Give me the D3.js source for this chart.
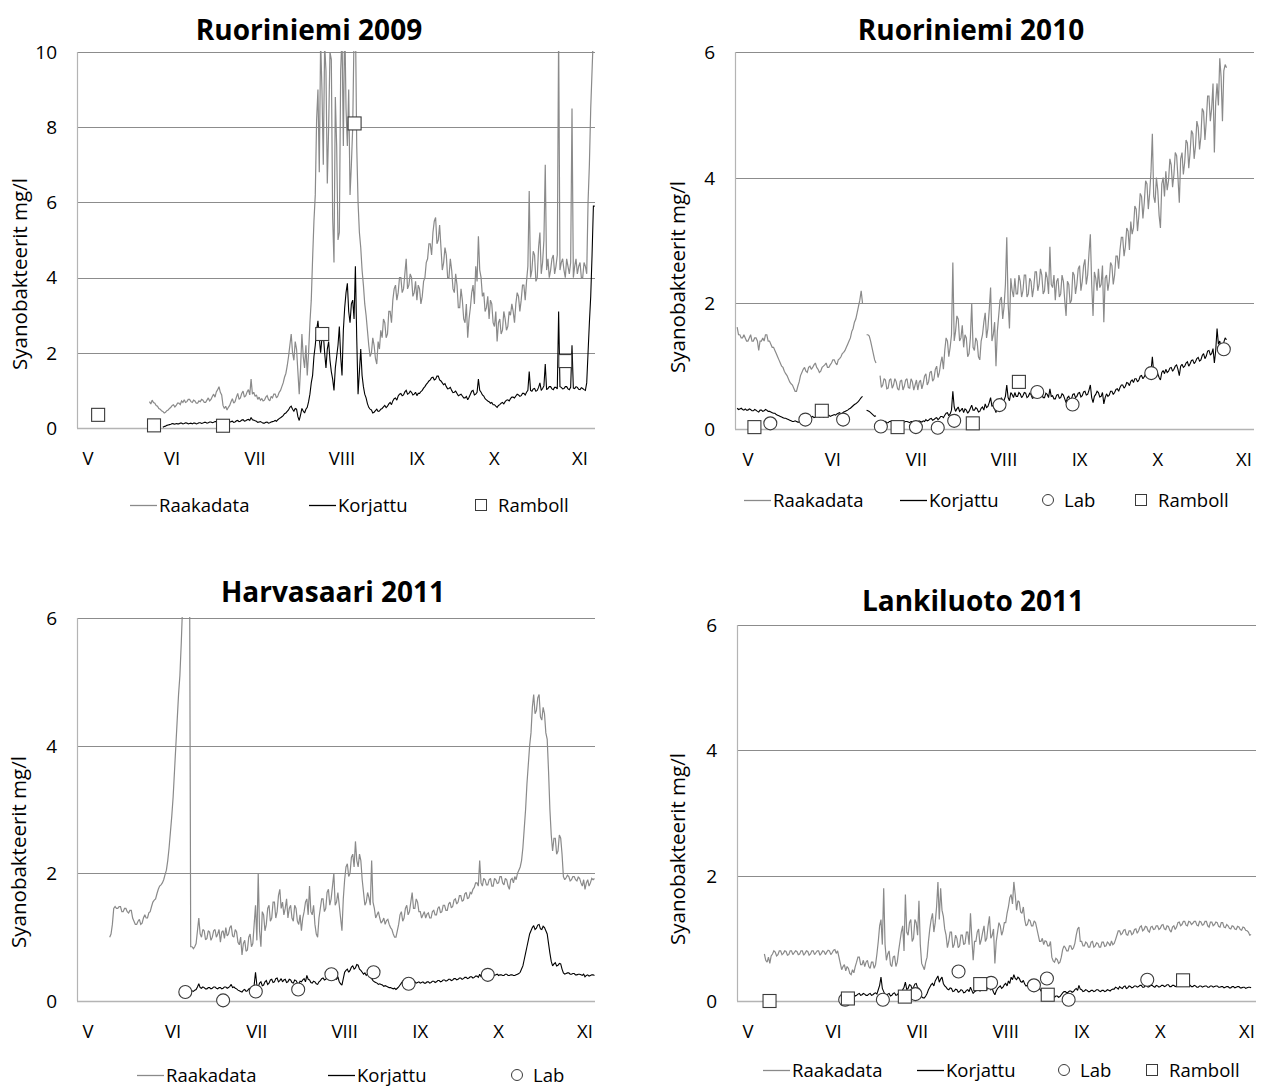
<!DOCTYPE html>
<html>
<head>
<meta charset="utf-8">
<script src="https://cdn.jsdelivr.net/npm/d3@7"></script>
<style>
  body { margin: 0; background: #fff; }
  text { font-family: "Open Sans", "DejaVu Sans", sans-serif; fill: #000; }
</style>
</head>
<body>
<svg id="chart" width="1264" height="1088"></svg>
<script>
// ---------------------------------------------------------------------------
// Month labels along the time axis (day 0 = 1 May)
const monthLabels = ["V", "VI", "VII", "VIII", "IX", "X", "XI"];
const monthDays = [0, 31.5, 62.5, 95, 123, 152, 184];

// ---------------------------------------------------------------------------
// Sensor data is logged densely; each day is stored as two readings:
// *A at the start of the day and *B at midday (the other edge of the
// daily scatter). null = gap in logging.

// Ruoriniemi 2009
const ruori09RawStart = 23;
const ruori09RawA = [
  0.70, 0.74, 0.66, 0.58, 0.50, 0.44, 0.42,
  0.48, 0.55, 0.62, 0.60, 0.66, 0.72,
  0.75, 0.70, 0.76, 0.68, 0.72, 0.66, 0.70, 0.74, 0.68, 0.80, 0.76, 0.90, 0.96, 1.10,
  0.88, 0.52, 0.48, 0.60, 0.78,
  0.70, 0.92, 0.80, 0.98, 0.86, 1.02, 1.30, 0.95, 0.88, 0.82,
  0.78, 0.74, 0.86, 0.72, 0.80, 0.90, 0.85, 1.00,
  1.20, 1.45, 1.90, 2.50, 1.80, 2.10, 0.90,
  2.50, 1.60, 1.40, 2.80,
  4.50, 6.20, 9.00, 10.3, 7.00, 9.50, 8.00, 9.80, 4.40, 7.50, 5.20, 10.5, 11.0, 7.50, 6.20, 8.00, 11.0, 6.00, 4.80, 3.80, 3.00, 2.20, 2.00, 2.20, 1.70, 2.10,
  2.40, 2.80, 2.50, 3.10, 3.40,
  3.80, 3.60, 4.00, 3.70, 4.50, 3.80, 4.00, 3.60,
  3.40, 3.70, 3.50, 4.00,
  4.50, 4.90, 5.20, 5.60, 5.00,
  4.80, 4.40, 4.60, 4.00, 4.20, 3.60, 3.80, 3.20, 3.40, 2.80,
  2.40, 3.20, 3.80, 4.30, 5.10, 4.00, 3.60, 3.20, 2.90, 3.30, 2.70, 2.30, 2.90, 2.60, 2.90, 2.70, 3.00, 3.10, 3.30, 3.50, 3.40, 3.80, 3.90,
  6.30, 4.20, 4.60, 4.00, 5.20, 4.40, 7.00, 4.50, 4.20, 4.60, 4.30, 10.5, 4.40, 4.20, 4.50, 4.10, 8.50, 4.30, 4.10, 4.40, 4.00, 4.30, 6.00, 8.50, 10.5
];
const ruori09RawB = [
  0.64, 0.68, 0.60, 0.52, 0.46, 0.40, 0.46,
  0.52, 0.60, 0.56, 0.66, 0.62, 0.68,
  0.68, 0.76, 0.70, 0.74, 0.66, 0.72, 0.76, 0.68, 0.74, 0.72, 0.84, 0.82, 1.02, 0.95,
  0.60, 0.58, 0.55, 0.70, 0.66,
  0.82, 0.76, 0.92, 0.82, 0.96, 0.88, 0.90, 0.84, 0.76, 0.74,
  0.72, 0.82, 0.76, 0.84, 0.90, 0.80, 0.95, 1.10,
  1.35, 1.65, 2.20, 2.00, 2.30, 1.50, 1.60,
  1.90, 2.20, 2.00, 3.40,
  5.50, 8.20, 6.80, 9.00, 10.2, 6.50, 10.0, 5.60, 8.80, 5.00, 9.50, 7.50, 8.50, 9.00, 7.00, 10.5, 7.50, 5.20, 4.20, 3.30, 2.60, 1.90, 2.40, 1.85, 2.30, 2.60,
  2.90, 2.40, 3.10, 2.80, 3.70,
  3.40, 4.00, 3.60, 4.10, 3.70, 4.10, 3.50, 3.90,
  3.80, 3.30, 3.90, 4.40,
  4.90, 4.60, 5.50, 4.90, 5.40,
  4.20, 4.80, 4.00, 4.50, 3.70, 4.10, 3.20, 3.70, 2.90, 3.30,
  2.90, 3.60, 3.30, 3.90, 4.20, 3.50, 3.10, 3.50, 3.40, 2.80, 3.10, 2.80, 2.50, 3.10, 2.60, 3.10, 3.30, 2.80, 3.60, 3.10, 3.80, 3.40, 4.30,
  4.00, 4.70, 3.90, 4.80, 4.10, 5.00, 4.20, 4.00, 4.50, 4.10, 4.60, 4.20, 4.50, 4.00, 4.30, 4.40, 4.00, 4.50, 4.30, 4.00, 4.40, 4.10, 7.00, 9.50, 10.5
];
const ruori09CorrStart = 28;
const ruori09CorrA = [
  0.02, 0.05, 0.08, 0.10, 0.11, 0.12, 0.11, 0.13,
  0.12, 0.13, 0.12, 0.11, 0.13, 0.12, 0.14, 0.13, 0.15, 0.14, 0.16, 0.15, 0.17, 0.18,
  0.16, 0.12, 0.11, 0.15, 0.18, 0.16, 0.20, 0.18, 0.22, 0.19, 0.23, 0.28, 0.21, 0.18, 0.16,
  0.15, 0.13, 0.16, 0.14, 0.17, 0.20, 0.22, 0.27, 0.33, 0.40, 0.48, 0.58, 0.45, 0.50, 0.20,
  0.52, 0.40, 0.55, 0.90, 1.40, 2.20, 2.85, 2.00, 2.50, 1.60, 2.30, 1.50, 1.00, 1.90, 2.70, 1.40, 3.20, 3.85, 2.80, 3.40, 4.30,
  0.90, 2.10, 1.10, 0.80, 0.55, 0.48, 0.42, 0.50, 0.45, 0.52, 0.60, 0.58, 0.68, 0.72, 0.80,
  0.85, 0.92, 0.88, 1.00, 0.92, 0.95, 0.90, 0.86, 0.92, 1.00, 1.10, 1.20, 1.28, 1.35, 1.30,
  1.38, 1.25, 1.15, 1.10, 1.05, 1.00, 0.95, 0.92, 0.88, 0.85, 0.80, 0.75, 0.90, 1.00, 0.90,
  1.30, 0.95, 0.85, 0.75, 0.70, 0.68, 0.62, 0.55, 0.62, 0.68, 0.70, 0.75, 0.78, 0.82, 0.85,
  0.88, 0.86, 0.92, 0.95, 1.50, 0.98, 1.05, 1.00, 1.20, 1.05, 1.70, 1.05, 1.10, 1.02, 1.08,
  3.10, 1.08, 1.05, 1.10, 1.02, 2.20, 1.05, 1.08, 1.02, 1.05, 1.00, 2.00, 3.50, 5.90
];
const ruori09CorrB = [
  0.04, 0.07, 0.09, 0.12, 0.10, 0.11, 0.13, 0.11,
  0.14, 0.11, 0.13, 0.13, 0.11, 0.14, 0.12, 0.15, 0.13, 0.16, 0.14, 0.17, 0.15, 0.20,
  0.13, 0.10, 0.13, 0.17, 0.15, 0.19, 0.17, 0.21, 0.18, 0.22, 0.20, 0.22, 0.19, 0.15, 0.17,
  0.13, 0.15, 0.13, 0.16, 0.18, 0.18, 0.25, 0.30, 0.38, 0.44, 0.55, 0.50, 0.52, 0.30, 0.35,
  0.45, 0.50, 0.70, 1.20, 1.90, 2.60, 2.40, 2.40, 2.00, 2.10, 1.80, 1.30, 1.60, 2.20, 1.90, 2.60, 3.60, 3.10, 3.30, 2.90, 2.40,
  1.50, 1.40, 0.90, 0.65, 0.50, 0.40, 0.46, 0.44, 0.50, 0.56, 0.54, 0.64, 0.62, 0.78, 0.74,
  0.90, 0.86, 0.96, 0.90, 0.98, 0.88, 0.95, 0.92, 0.97, 1.06, 1.16, 1.25, 1.34, 1.28, 1.38,
  1.28, 1.20, 1.18, 1.04, 1.08, 0.94, 0.98, 0.86, 0.90, 0.80, 0.84, 0.82, 0.98, 0.88, 0.95,
  1.00, 0.88, 0.78, 0.72, 0.66, 0.62, 0.58, 0.60, 0.66, 0.64, 0.74, 0.72, 0.82, 0.80, 0.90,
  0.84, 0.92, 0.88, 1.00, 1.00, 1.04, 0.98, 1.08, 1.00, 1.12, 1.02, 1.10, 1.04, 1.08, 1.04,
  1.10, 1.04, 1.10, 1.04, 1.08, 1.06, 1.10, 1.03, 1.07, 1.02, 1.20, 2.80, 4.60, 5.90
];
const ruori09RambollDays = [3.8, 24.7, 50.5, 87.6, 99.7, 178.5];
const ruori09RambollVals = [0.35, 0.07, 0.06, 2.50, 8.10, 1.78];

// ---------------------------------------------------------------------------
// Ruoriniemi 2010
const ruori10RawStart = -4;
const ruori10RawA = [
  1.62, 1.50, 1.45, 1.45, 1.40, 1.50, 1.40, 1.45, 1.25, 1.40, 1.40, 1.50, 1.40, 1.30,
  1.25, 1.15, 1.05, 0.98, 0.88, 0.80, 0.72, 0.65, 0.60, 0.75, 0.90, 0.98, 0.90, 1.00, 0.98,
  1.05, 0.95, 0.92, 1.00, 1.05, 0.98, 1.05, 1.10, 1.02, 1.12, 1.20, 1.25, 1.35, 1.45, 1.60, 1.75, 1.95, 2.20,
  null,
  1.50, 1.48, 1.30, 1.10,
  null,
  0.85, 0.70, 0.78, 0.65, 0.80, 0.70, 0.75, 0.62, 0.78, 0.68, 0.80, 0.65, 0.75, 0.70, 0.62, 0.78,
  0.72, 0.88, 0.75, 0.92, 0.80, 1.00, 0.90, 1.15, 1.25, 1.40, 1.30, 2.65, 1.55, 1.75, 1.45,
  1.30, 1.45, 1.20, 2.00, 1.25, 1.40, 1.10, 1.50, 1.85, 1.60, 2.25, 1.50, 1.00, 1.80, 2.10,
  1.95, 3.05, 1.60, 2.20, 2.40, 2.15, 2.35, 2.20, 2.45, 2.15, 2.35, 2.25, 2.50, 2.30, 2.45,
  2.20, 2.40, 2.90, 2.25, 2.05, 2.40, 2.15, 2.35, 1.80, 2.30, 2.05, 2.45, 2.30, 2.60, 2.35,
  2.70, 2.45, 3.10, 1.80, 2.40, 2.55, 2.30, 1.70, 2.45, 2.35, 2.60, 2.45, 2.75, 2.85, 3.05,
  2.90, 3.15, 3.30, 3.20, 3.50, 3.40, 3.70, 3.60, 3.90, 3.75, 4.70, 3.60, 3.80, 3.20, 4.00,
  4.10, 3.95, 4.20, 4.05, 4.35, 3.60, 4.40, 4.25, 4.55, 4.40, 4.70, 4.50, 4.80, 4.65, 5.05,
  4.90, 5.30, 5.10, 4.40, 5.50, 5.90, 4.90, 5.80
];
const ruori10RawB = [
  1.50, 1.45, 1.50, 1.40, 1.45, 1.40, 1.45, 1.40, 1.40, 1.45, 1.50, 1.40, 1.35, 1.30,
  1.20, 1.10, 1.00, 0.92, 0.85, 0.75, 0.70, 0.60, 0.68, 0.85, 0.95, 0.92, 0.98, 0.95, 1.02,
  0.98, 0.90, 0.98, 1.02, 0.98, 1.02, 1.10, 1.05, 1.10, 1.15, 1.22, 1.30, 1.40, 1.55, 1.70, 1.85, 2.05, 2.00,
  null,
  1.50, 1.40, 1.20, 1.05,
  null,
  0.66, 0.80, 0.64, 0.78, 0.65, 0.80, 0.64, 0.76, 0.62, 0.78, 0.66, 0.80, 0.62, 0.78, 0.74, 0.64,
  0.84, 0.70, 0.90, 0.76, 0.95, 0.82, 1.05, 0.95, 1.45, 1.15, 1.50, 1.40, 1.80, 1.40, 1.65,
  1.50, 1.15, 1.45, 1.30, 1.45, 1.15, 1.40, 1.70, 1.45, 1.90, 1.40, 1.70, 1.55, 2.05, 1.75,
  2.30, 2.00, 2.40, 2.10, 2.15, 2.45, 2.10, 2.45, 2.10, 2.40, 2.10, 2.50, 2.20, 2.55, 2.15,
  2.50, 2.15, 2.30, 2.45, 2.35, 2.10, 2.45, 2.05, 2.35, 2.00, 2.50, 2.15, 2.55, 2.20, 2.60,
  2.30, 2.80, 2.30, 2.50, 2.20, 2.25, 2.60, 2.40, 2.20, 2.65, 2.30, 2.75, 2.55, 3.05, 2.75,
  3.20, 2.85, 3.10, 3.55, 3.15, 3.75, 3.35, 3.95, 3.50, 4.10, 3.70, 4.00, 3.40, 3.90, 3.70,
  3.80, 4.30, 3.85, 4.40, 4.00, 4.30, 4.05, 4.60, 4.15, 4.75, 4.30, 4.90, 4.45, 5.10, 4.60,
  5.30, 4.90, 5.50, 5.20, 5.15, 5.60, 5.70, 5.75
];
const ruori10CorrStart = -4;
const ruori10CorrA = [
  0.33, 0.32, 0.31, 0.32, 0.30, 0.31, 0.29, 0.30, 0.27, 0.30, 0.29, 0.30, 0.28, 0.26,
  0.25, 0.22, 0.20, 0.18, 0.17, 0.15, 0.13, 0.12, 0.12, 0.11, 0.13, 0.15, 0.17, 0.18, 0.20,
  0.19, 0.21, 0.20, 0.19, 0.20, 0.22, 0.21, 0.23, 0.24, 0.26, 0.25, 0.28, 0.30, 0.33, 0.37, 0.40, 0.44, 0.50,
  null,
  0.30, 0.28, 0.24, 0.20,
  null,
  0.14, 0.10, 0.12, 0.10, 0.12, 0.11, 0.12, 0.10, 0.12, 0.11, 0.12, 0.10, 0.12, 0.11, 0.10, 0.12,
  0.13, 0.15, 0.14, 0.17, 0.15, 0.18, 0.17, 0.20, 0.22, 0.26, 0.24, 0.60, 0.28, 0.35, 0.30,
  0.26, 0.30, 0.28, 0.38, 0.30, 0.32, 0.28, 0.35, 0.40, 0.36, 0.50, 0.38, 0.26, 0.42, 0.50,
  0.46, 0.70, 0.45, 0.55, 0.58, 0.52, 0.56, 0.53, 0.57, 0.52, 0.55, 0.50, 0.56, 0.52, 0.55,
  0.50, 0.55, 0.64, 0.53, 0.48, 0.55, 0.50, 0.54, 0.42, 0.52, 0.48, 0.56, 0.52, 0.58, 0.53,
  0.60, 0.55, 0.70, 0.42, 0.55, 0.58, 0.52, 0.40, 0.56, 0.54, 0.60, 0.58, 0.64, 0.66, 0.70,
  0.68, 0.73, 0.76, 0.74, 0.80, 0.78, 0.85, 0.83, 0.89, 0.86, 1.15, 0.84, 0.88, 0.78, 0.93,
  0.95, 0.92, 0.98, 0.95, 1.02, 0.85, 1.03, 1.00, 1.07, 1.04, 1.10, 1.07, 1.14, 1.10, 1.20,
  1.16, 1.25, 1.20, 1.05, 1.60, 1.40, 1.20, 1.45
];
const ruori10CorrB = [
  0.31, 0.33, 0.30, 0.30, 0.32, 0.29, 0.31, 0.28, 0.30, 0.28, 0.31, 0.28, 0.27, 0.25,
  0.23, 0.21, 0.19, 0.17, 0.16, 0.14, 0.12, 0.13, 0.11, 0.12, 0.14, 0.16, 0.18, 0.19, 0.18,
  0.20, 0.19, 0.21, 0.20, 0.21, 0.20, 0.22, 0.22, 0.25, 0.24, 0.27, 0.29, 0.32, 0.35, 0.39, 0.42, 0.47, 0.52,
  null,
  0.29, 0.26, 0.22, 0.21,
  null,
  0.12, 0.11, 0.10, 0.12, 0.10, 0.12, 0.11, 0.12, 0.10, 0.12, 0.11, 0.12, 0.10, 0.12, 0.13, 0.11,
  0.12, 0.13, 0.16, 0.14, 0.17, 0.15, 0.20, 0.18, 0.25, 0.21, 0.30, 0.35, 0.32, 0.28, 0.33,
  0.32, 0.25, 0.33, 0.30, 0.34, 0.27, 0.33, 0.30, 0.34, 0.42, 0.36, 0.32, 0.36, 0.38, 0.44,
  0.52, 0.50, 0.58, 0.50, 0.52, 0.58, 0.50, 0.58, 0.50, 0.57, 0.49, 0.57, 0.50, 0.57, 0.50,
  0.57, 0.50, 0.52, 0.48, 0.54, 0.49, 0.56, 0.48, 0.50, 0.46, 0.55, 0.50, 0.57, 0.51, 0.59,
  0.54, 0.62, 0.50, 0.52, 0.60, 0.51, 0.58, 0.50, 0.52, 0.60, 0.55, 0.63, 0.60, 0.70, 0.65,
  0.74, 0.69, 0.78, 0.80, 0.75, 0.84, 0.80, 0.88, 0.84, 0.92, 0.90, 0.92, 0.82, 0.90, 0.88,
  0.90, 0.97, 0.92, 1.00, 0.95, 1.00, 0.98, 1.05, 1.00, 1.09, 1.04, 1.12, 1.08, 1.17, 1.12,
  1.24, 1.18, 1.28, 1.25, 1.35, 1.30, 1.38, 1.42
];
const ruori10LabDays = [8.3, 21.3, 35.3, 49.3, 62.3, 70.4, 76.5, 93.3, 107.3, 120.4, 149.6, 176.5];
const ruori10LabVals = [0.09, 0.15, 0.15, 0.04, 0.03, 0.02, 0.13, 0.38, 0.59, 0.39, 0.89, 1.27];
const ruori10RambollDays = [2.4, 27.4, 55.5, 83.4, 100.5];
const ruori10RambollVals = [0.03, 0.29, 0.03, 0.09, 0.75];

// ---------------------------------------------------------------------------
// Harvasaari 2011
const harva11RawStart = 8;
const harva11RawA = [
  1.00, 1.20, 1.48, 1.45, 1.48, 1.40, 1.45, 1.38, 1.42, 1.25, 1.20, 1.28, 1.22, 1.35, 1.30,
  1.40, 1.55, 1.60, 1.75, 1.82, 1.90, 2.05, 2.40, 2.90, 3.60, 4.40, 5.10, 6.20, 7.50, 8.00,
  0.85, 0.82, 0.90, 1.30, 1.00, 1.10, 0.98, 1.08, 1.00, 1.12, 1.05, 0.92, 1.10, 1.15, 1.05,
  1.18, 1.00, 1.08, 0.88, 0.72, 0.95, 0.80, 1.05, 0.90, 1.50, 2.00, 0.85, 1.35, 1.20, 1.50,
  1.30, 1.55, 1.40, 1.75, 1.55, 1.45, 1.30, 1.50, 1.25, 1.45, 1.20, 1.10, 1.40, 1.60, 1.80,
  1.35, 1.20, 1.00, 1.45, 1.60, 1.45, 1.75, 1.60, 2.00, 1.55, 1.50, 1.10, 1.90, 2.15, 2.00,
  2.30, 2.50, 2.10, 2.20, 1.70, 1.55, 1.62, 2.20, 1.45, 1.35, 1.30, 1.25, 1.20, 1.28, 1.15,
  1.05, 1.00, 1.20, 1.40, 1.30, 1.50, 1.40, 1.70, 1.45, 1.55, 1.40, 1.35, 1.30, 1.38, 1.30,
  1.42, 1.35, 1.48, 1.40, 1.50, 1.42, 1.55, 1.48, 1.60, 1.55, 1.65, 1.58, 1.70, 1.62, 1.68,
  1.78, 1.85, 2.20, 1.80, 1.90, 1.82, 1.92, 1.80, 1.90, 1.85, 1.95, 1.82, 1.90, 1.75, 1.92,
  1.95, 2.00, 2.10, 2.40, 3.00, 3.70, 4.20, 4.80, 4.55, 4.80, 4.40, 4.50, 4.10, 3.00, 2.35,
  2.55, 2.35, 2.55, 1.95, 1.93, 1.95, 1.90, 1.95, 1.88, 1.92, 1.80, 1.75, 1.90, 1.85, 1.90
];
const harva11RawB = [
  1.05, 1.45, 1.45, 1.48, 1.40, 1.45, 1.40, 1.42, 1.30, 1.20, 1.25, 1.20, 1.30, 1.30, 1.38,
  1.48, 1.58, 1.68, 1.80, 1.85, 1.98, 2.20, 2.65, 3.20, 4.00, 4.80, 5.60, 7.00, 8.00, 8.00,
  0.85, 0.85, 1.10, 1.05, 1.12, 0.96, 1.10, 0.95, 1.10, 1.00, 1.12, 1.08, 0.98, 1.02, 1.15,
  1.02, 1.12, 0.92, 1.00, 0.90, 0.78, 1.00, 0.85, 1.20, 0.95, 1.10, 1.40, 1.10, 1.45, 1.25,
  1.55, 1.30, 1.65, 1.45, 1.35, 1.60, 1.45, 1.30, 1.50, 1.25, 1.35, 1.30, 1.55, 1.35, 1.40,
  1.50, 1.05, 1.30, 1.60, 1.40, 1.70, 1.50, 1.80, 1.50, 1.70, 1.30, 1.60, 2.10, 1.95, 2.25,
  2.10, 2.20, 2.30, 1.90, 1.50, 1.70, 1.50, 1.55, 1.30, 1.40, 1.22, 1.30, 1.26, 1.20, 1.12,
  1.00, 1.10, 1.35, 1.25, 1.45, 1.35, 1.55, 1.45, 1.60, 1.40, 1.30, 1.40, 1.36, 1.30, 1.40,
  1.35, 1.45, 1.38, 1.50, 1.42, 1.52, 1.46, 1.58, 1.52, 1.65, 1.56, 1.68, 1.60, 1.70, 1.75,
  1.85, 1.80, 1.85, 1.92, 1.82, 1.90, 1.80, 1.92, 1.84, 1.95, 1.85, 1.92, 1.80, 1.90, 1.85,
  1.90, 2.05, 2.20, 2.70, 3.40, 4.00, 4.60, 4.50, 4.75, 4.45, 4.60, 4.20, 3.60, 2.60, 2.55,
  2.30, 2.60, 2.30, 1.90, 1.97, 1.88, 1.95, 1.90, 1.94, 1.85, 1.90, 1.85, 1.80, 1.92, 1.92
];
const harva11CorrStart = 38;
const harva11CorrA = [
  0.14, 0.15, 0.18, 0.27, 0.20, 0.21, 0.19, 0.21, 0.20, 0.22, 0.19, 0.21, 0.20, 0.22, 0.21,
  0.26, 0.22, 0.19, 0.16, 0.14, 0.18, 0.16, 0.20, 0.18, 0.45, 0.22, 0.30, 0.25, 0.32, 0.28,
  0.34, 0.30, 0.36, 0.32, 0.30, 0.34, 0.30, 0.33, 0.28, 0.32, 0.27, 0.30, 0.35, 0.40, 0.33,
  0.28, 0.30, 0.26, 0.32, 0.36, 0.34, 0.38, 0.35, 0.40, 0.34, 0.30, 0.25, 0.45, 0.50, 0.48,
  0.55, 0.52, 0.56, 0.48, 0.42, 0.40, 0.44, 0.35, 0.30, 0.28, 0.27, 0.25, 0.24, 0.22, 0.21,
  0.19, 0.18, 0.22, 0.28, 0.32, 0.30, 0.34, 0.33, 0.30, 0.29, 0.28, 0.30, 0.28, 0.30, 0.29,
  0.31, 0.30, 0.32, 0.31, 0.33, 0.32, 0.34, 0.33, 0.35, 0.34, 0.36, 0.35, 0.37, 0.36, 0.38,
  0.37, 0.39, 0.42, 0.38, 0.40, 0.41, 0.40, 0.42, 0.41, 0.40, 0.41, 0.40, 0.42, 0.40, 0.41,
  0.40, 0.42, 0.45, 0.55, 0.75, 0.95, 1.10, 1.18, 1.14, 1.20, 1.12, 1.15, 1.05, 0.75, 0.55,
  0.60, 0.56, 0.58, 0.44, 0.43, 0.44, 0.42, 0.43, 0.41, 0.42, 0.40, 0.38, 0.41, 0.40, 0.41
];
const harva11CorrB = [
  0.16, 0.17, 0.22, 0.21, 0.22, 0.19, 0.21, 0.19, 0.22, 0.20, 0.21, 0.19, 0.22, 0.20, 0.23,
  0.21, 0.20, 0.17, 0.15, 0.17, 0.15, 0.19, 0.16, 0.25, 0.25, 0.28, 0.24, 0.30, 0.26, 0.33,
  0.29, 0.35, 0.30, 0.35, 0.33, 0.29, 0.34, 0.29, 0.33, 0.28, 0.31, 0.33, 0.30, 0.34, 0.29,
  0.31, 0.27, 0.30, 0.35, 0.33, 0.37, 0.34, 0.39, 0.35, 0.38, 0.27, 0.35, 0.48, 0.45, 0.53,
  0.50, 0.57, 0.50, 0.45, 0.44, 0.42, 0.38, 0.32, 0.29, 0.26, 0.26, 0.23, 0.23, 0.21, 0.20,
  0.20, 0.20, 0.25, 0.31, 0.29, 0.33, 0.31, 0.30, 0.28, 0.30, 0.29, 0.28, 0.30, 0.28, 0.31,
  0.29, 0.32, 0.30, 0.33, 0.31, 0.34, 0.32, 0.35, 0.33, 0.36, 0.34, 0.37, 0.35, 0.38, 0.36,
  0.39, 0.37, 0.38, 0.41, 0.39, 0.42, 0.41, 0.40, 0.42, 0.41, 0.40, 0.42, 0.40, 0.41, 0.40,
  0.41, 0.43, 0.50, 0.65, 0.85, 1.05, 1.15, 1.12, 1.19, 1.13, 1.17, 1.10, 0.90, 0.62, 0.58,
  0.55, 0.59, 0.50, 0.42, 0.44, 0.42, 0.43, 0.41, 0.42, 0.41, 0.42, 0.40, 0.39, 0.41, 0.40
];
const harva11LabDays = [36.0, 50.0, 62.1, 77.8, 90.1, 105.7, 118.7, 148.0];
const harva11LabVals = [0.14, 0.01, 0.15, 0.18, 0.42, 0.45, 0.27, 0.41];

// ---------------------------------------------------------------------------
// Lankiluoto 2011
const lanki11RawStart = 6;
const lanki11RawA = [
  0.75, 0.62, 0.60, 0.75, 0.78, 0.74, 0.80, 0.76, 0.79, 0.74, 0.80, 0.77, 0.79, 0.75, 0.80,
  0.76, 0.79, 0.75, 0.80, 0.77, 0.80, 0.76, 0.79, 0.78, 0.80, 0.77, 0.82, 0.80, 0.60, 0.55,
  0.48, 0.52, 0.42, 0.45, 0.62, 0.70, 0.58, 0.55, 0.65, 0.52, 0.62, 0.58, 0.95, 1.30, 1.80,
  0.65, 0.80, 0.55, 0.72, 0.62, 0.95, 1.20, 1.70, 1.05, 1.30, 1.00, 1.25, 1.60, 0.60, 0.50,
  0.70, 1.15, 1.40, 1.25, 1.90, 1.80, 1.35, 1.05, 0.95, 1.10, 0.90, 1.00, 0.88, 1.05, 0.92,
  1.10, 1.40, 0.65, 0.95, 1.15, 0.98, 1.20, 1.00, 1.35, 1.05, 0.60, 1.10, 1.20, 1.12, 1.25,
  1.50, 1.70, 1.90, 1.45, 1.58, 1.40, 1.30, 1.22, 1.28, 1.20, 1.25, 1.05, 0.95, 0.90, 0.95,
  0.88, 0.70, 0.62, 0.66, 0.62, 0.82, 0.85, 0.80, 0.88, 0.85, 1.05, 1.18, 0.95, 0.88, 0.92,
  0.86, 0.95, 0.88, 0.92, 0.86, 0.94, 0.88, 0.92, 0.96, 0.92, 1.05, 1.12, 1.08, 1.14, 1.05,
  1.12, 1.08, 1.15, 1.12, 1.20, 1.14, 1.18, 1.10, 1.19, 1.15, 1.20, 1.16, 1.22, 1.14, 1.19,
  1.10, 1.20, 1.18, 1.26, 1.22, 1.27, 1.20, 1.26, 1.24, 1.27, 1.20, 1.26, 1.22, 1.27, 1.18,
  1.26, 1.22, 1.25, 1.18, 1.25, 1.17, 1.20, 1.15, 1.19, 1.14, 1.18, 1.13, 1.17, 1.12, 1.05
];
const lanki11RawB = [
  0.65, 0.70, 0.72, 0.80, 0.72, 0.80, 0.74, 0.80, 0.73, 0.80, 0.74, 0.80, 0.74, 0.80, 0.73,
  0.80, 0.73, 0.80, 0.74, 0.80, 0.73, 0.80, 0.74, 0.81, 0.74, 0.81, 0.76, 0.70, 0.50, 0.58,
  0.55, 0.44, 0.50, 0.55, 0.70, 0.58, 0.65, 0.62, 0.55, 0.62, 0.52, 0.75, 1.20, 0.90, 0.90,
  0.75, 0.58, 0.70, 0.55, 0.80, 1.10, 0.80, 1.10, 1.25, 0.95, 1.30, 1.05, 0.90, 0.55, 0.62,
  0.95, 1.30, 1.10, 1.50, 1.30, 1.45, 1.15, 0.85, 1.10, 0.85, 1.05, 0.85, 1.05, 0.90, 1.10,
  0.90, 1.00, 0.95, 1.10, 0.90, 1.10, 0.95, 1.20, 1.00, 1.15, 0.95, 1.25, 1.05, 1.25, 1.40,
  1.65, 1.55, 1.70, 1.60, 1.42, 1.50, 1.20, 1.30, 1.20, 1.28, 1.15, 0.95, 1.00, 0.96, 0.88,
  0.95, 0.64, 0.68, 0.60, 0.70, 0.88, 0.80, 0.88, 0.82, 0.92, 1.15, 0.95, 0.88, 0.94, 0.86,
  0.94, 0.86, 0.93, 0.86, 0.94, 0.87, 0.94, 0.88, 0.90, 0.98, 1.12, 1.06, 1.13, 1.06, 1.12,
  1.06, 1.14, 1.08, 1.18, 1.12, 1.19, 1.12, 1.18, 1.14, 1.20, 1.14, 1.21, 1.15, 1.20, 1.13,
  1.18, 1.14, 1.25, 1.20, 1.27, 1.21, 1.27, 1.22, 1.27, 1.21, 1.27, 1.21, 1.27, 1.20, 1.26,
  1.20, 1.26, 1.19, 1.25, 1.18, 1.22, 1.16, 1.20, 1.15, 1.19, 1.14, 1.18, 1.13, 1.10, 1.06
];
const lanki11CorrStart = 36;
const lanki11CorrA = [
  0.06, 0.10, 0.08, 0.11, 0.09, 0.12, 0.10, 0.11, 0.09, 0.12, 0.10, 0.13, 0.18, 0.38, 0.15,
  0.08, 0.12, 0.09, 0.13, 0.10, 0.14, 0.18, 0.30, 0.20, 0.25, 0.22, 0.28, 0.20, 0.07, 0.05,
  0.12, 0.22, 0.28, 0.32, 0.40, 0.35, 0.28, 0.22, 0.18, 0.20, 0.16, 0.18, 0.15, 0.17, 0.14,
  0.18, 0.22, 0.12, 0.16, 0.20, 0.17, 0.22, 0.18, 0.24, 0.20, 0.10, 0.20, 0.24, 0.22, 0.28,
  0.32, 0.38, 0.42, 0.34, 0.36, 0.30, 0.27, 0.25, 0.28, 0.24, 0.22, 0.18, 0.16, 0.17, 0.15,
  0.16, 0.10, 0.06, 0.08, 0.07, 0.13, 0.15, 0.14, 0.16, 0.15, 0.20, 0.25, 0.18, 0.16, 0.17,
  0.15, 0.17, 0.16, 0.18, 0.15, 0.17, 0.16, 0.17, 0.18, 0.19, 0.21, 0.23, 0.20, 0.24, 0.21,
  0.23, 0.22, 0.24, 0.23, 0.25, 0.22, 0.24, 0.23, 0.25, 0.22, 0.24, 0.23, 0.25, 0.24, 0.26,
  0.23, 0.25, 0.24, 0.26, 0.25, 0.26, 0.24, 0.25, 0.23, 0.24, 0.22, 0.24, 0.23, 0.24, 0.22,
  0.24, 0.23, 0.24, 0.22, 0.23, 0.22, 0.23, 0.21, 0.23, 0.22, 0.23, 0.21, 0.22, 0.21, 0.22
];
const lanki11CorrB = [
  0.09, 0.07, 0.10, 0.08, 0.11, 0.09, 0.12, 0.09, 0.11, 0.09, 0.12, 0.11, 0.25, 0.20, 0.10,
  0.11, 0.08, 0.12, 0.09, 0.13, 0.11, 0.22, 0.18, 0.26, 0.19, 0.27, 0.21, 0.12, 0.05, 0.08,
  0.18, 0.26, 0.24, 0.36, 0.30, 0.38, 0.24, 0.19, 0.21, 0.15, 0.19, 0.14, 0.18, 0.13, 0.17,
  0.15, 0.17, 0.15, 0.19, 0.16, 0.20, 0.17, 0.22, 0.18, 0.14, 0.16, 0.22, 0.20, 0.26, 0.24,
  0.28, 0.34, 0.36, 0.38, 0.31, 0.33, 0.24, 0.28, 0.24, 0.26, 0.19, 0.20, 0.18, 0.14, 0.17,
  0.13, 0.07, 0.08, 0.06, 0.10, 0.15, 0.13, 0.16, 0.14, 0.18, 0.17, 0.19, 0.15, 0.18, 0.15,
  0.17, 0.15, 0.18, 0.16, 0.17, 0.15, 0.18, 0.16, 0.19, 0.22, 0.19, 0.21, 0.23, 0.20, 0.24,
  0.21, 0.24, 0.22, 0.25, 0.22, 0.25, 0.22, 0.25, 0.23, 0.25, 0.22, 0.25, 0.23, 0.26, 0.23,
  0.25, 0.23, 0.26, 0.24, 0.27, 0.24, 0.26, 0.23, 0.25, 0.22, 0.24, 0.22, 0.24, 0.22, 0.24,
  0.22, 0.24, 0.22, 0.23, 0.21, 0.23, 0.21, 0.23, 0.21, 0.23, 0.21, 0.22, 0.20, 0.22, 0.21
];
const lanki11LabDays = [35.8, 49.7, 61.7, 77.6, 89.6, 105.4, 110.2, 118.2, 147.2];
const lanki11LabVals = [0.02, 0.02, 0.11, 0.47, 0.29, 0.25, 0.36, 0.02, 0.34];
const lanki11RambollDays = [7.9, 36.8, 57.8, 85.6, 110.5, 160.4];
const lanki11RambollVals = [0.00, 0.04, 0.07, 0.27, 0.10, 0.33];

// ---------------------------------------------------------------------------
const RAW_COLOR = "#8a8a8a";
const GRID_COLOR = "#8c8c8c";
const AXIS_COLOR = "#b4b4b4";
const MARK_STROKE = "#3a3a3a";

const svg = d3.select("#chart");

// Interleave the start-of-day and midday readings into one point list
function halfDayPoints(start, a, b) {
  const pts = [];
  a.forEach((v, i) => {
    pts.push({ day: start + i, v: v });
    pts.push({ day: start + i + 0.5, v: b[i] });
  });
  return pts;
}

const panels = [
  {
    title: "Ruoriniemi 2009", titleX: 309, titleY: 40,
    left: 77, right: 595, top: 52, bottom: 428, yMax: 10, yStep: 2,
    xDomain: [-4.1, 189.6], axisTitleX: 27, axisTitleY: 274,
    raw: halfDayPoints(ruori09RawStart, ruori09RawA, ruori09RawB),
    corr: halfDayPoints(ruori09CorrStart, ruori09CorrA, ruori09CorrB),
    lab: null,
    ramboll: { days: ruori09RambollDays, vals: ruori09RambollVals },
    legendY: 505,
    legend: [
      { kind: "raw", x: 130, label: "Raakadata" },
      { kind: "corr", x: 309, label: "Korjattu" },
      { kind: "ramboll", x: 481, label: "Ramboll" }
    ]
  },
  {
    title: "Ruoriniemi 2010", titleX: 971, titleY: 40,
    left: 735, right: 1254, top: 52, bottom: 429, yMax: 6, yStep: 2,
    xDomain: [-4.8, 187.7], axisTitleX: 685, axisTitleY: 277,
    raw: halfDayPoints(ruori10RawStart, ruori10RawA, ruori10RawB),
    corr: halfDayPoints(ruori10CorrStart, ruori10CorrA, ruori10CorrB),
    lab: { days: ruori10LabDays, vals: ruori10LabVals },
    ramboll: { days: ruori10RambollDays, vals: ruori10RambollVals },
    legendY: 500,
    legend: [
      { kind: "raw", x: 744, label: "Raakadata" },
      { kind: "corr", x: 900, label: "Korjattu" },
      { kind: "lab", x: 1048, label: "Lab" },
      { kind: "ramboll", x: 1141, label: "Ramboll" }
    ]
  },
  {
    title: "Harvasaari 2011", titleX: 333, titleY: 602,
    left: 77, right: 595, top: 618, bottom: 1001, yMax: 6, yStep: 2,
    xDomain: [-4.1, 187.7], axisTitleX: 26, axisTitleY: 852,
    raw: halfDayPoints(harva11RawStart, harva11RawA, harva11RawB),
    corr: halfDayPoints(harva11CorrStart, harva11CorrA, harva11CorrB),
    lab: { days: harva11LabDays, vals: harva11LabVals },
    ramboll: null,
    legendY: 1075,
    legend: [
      { kind: "raw", x: 137, label: "Raakadata" },
      { kind: "corr", x: 328, label: "Korjattu" },
      { kind: "lab", x: 517, label: "Lab" }
    ]
  },
  {
    title: "Lankiluoto 2011", titleX: 973, titleY: 611,
    left: 737, right: 1256, top: 625, bottom: 1001, yMax: 6, yStep: 2,
    xDomain: [-4.1, 187.3], axisTitleX: 685, axisTitleY: 849,
    raw: halfDayPoints(lanki11RawStart, lanki11RawA, lanki11RawB),
    corr: halfDayPoints(lanki11CorrStart, lanki11CorrA, lanki11CorrB),
    lab: { days: lanki11LabDays, vals: lanki11LabVals },
    ramboll: { days: lanki11RambollDays, vals: lanki11RambollVals },
    legendY: 1070,
    legend: [
      { kind: "raw", x: 763, label: "Raakadata" },
      { kind: "corr", x: 917, label: "Korjattu" },
      { kind: "lab", x: 1064, label: "Lab" },
      { kind: "ramboll", x: 1152, label: "Ramboll" }
    ]
  }
];

const SQ = 13;    // Ramboll square size
const CR = 6.5;   // Lab circle radius

function drawSquare(g, cx, cy, size) {
  g.append("rect")
    .attr("x", cx - size / 2).attr("y", cy - size / 2)
    .attr("width", size).attr("height", size)
    .attr("fill", "#fff").attr("stroke", MARK_STROKE).attr("stroke-width", 1.1);
}
function drawCircle(g, cx, cy, r) {
  g.append("circle")
    .attr("cx", cx).attr("cy", cy).attr("r", r)
    .attr("fill", "#fff").attr("stroke", MARK_STROKE).attr("stroke-width", 1.1);
}

panels.forEach((p, pi) => {
  const g = svg.append("g");
  const x = d3.scaleLinear().domain(p.xDomain).range([p.left, p.right]);
  const y = d3.scaleLinear().domain([0, p.yMax]).range([p.bottom, p.top]);
  const yTicks = d3.range(0, p.yMax + 0.001, p.yStep);

  // Title
  g.append("text")
    .attr("x", p.titleX).attr("y", p.titleY)
    .attr("text-anchor", "middle")
    .style("font-size", "28px").style("font-weight", "bold")
    .text(p.title);

  // Horizontal gridlines
  g.append("g").selectAll("line")
    .data(yTicks.filter(t => t > 0))
    .join("line")
    .attr("x1", p.left).attr("x2", p.right)
    .attr("y1", d => Math.round(y(d)) + 0.5).attr("y2", d => Math.round(y(d)) + 0.5)
    .attr("stroke", GRID_COLOR).attr("stroke-width", 1);

  // Axis lines
  g.append("line")
    .attr("x1", p.left + 0.5).attr("x2", p.left + 0.5)
    .attr("y1", p.top).attr("y2", p.bottom)
    .attr("stroke", AXIS_COLOR).attr("stroke-width", 1.2);
  g.append("line")
    .attr("x1", p.left).attr("x2", p.right)
    .attr("y1", Math.round(y(0)) + 0.5).attr("y2", Math.round(y(0)) + 0.5)
    .attr("stroke", AXIS_COLOR).attr("stroke-width", 1.6);

  // Y tick labels
  g.append("g").selectAll("text")
    .data(yTicks)
    .join("text")
    .attr("x", p.left - 20).attr("y", d => y(d))
    .attr("dy", "0.36em")
    .attr("text-anchor", "end")
    .style("font-size", "19px")
    .text(d => d3.format("d")(d));

  // Month labels
  g.append("g").selectAll("text")
    .data(monthLabels)
    .join("text")
    .attr("x", (d, i) => x(monthDays[i]))
    .attr("y", p.bottom + 30)
    .attr("dy", "0.36em")
    .attr("text-anchor", "middle")
    .style("font-size", "18.5px")
    .text(d => d);

  // Y axis title
  g.append("text")
    .attr("transform", `translate(${p.axisTitleX},${p.axisTitleY}) rotate(-90)`)
    .attr("text-anchor", "middle")
    .style("font-size", "20.5px")
    .text("Syanobakteerit mg/l");

  // Clip region for the plotted series
  const clipId = "plotclip" + pi;
  svg.append("clipPath").attr("id", clipId)
    .append("rect")
    .attr("x", p.left).attr("y", p.top - 1)
    .attr("width", p.right - p.left).attr("height", p.bottom - p.top + 4);

  const plot = g.append("g").attr("clip-path", `url(#${clipId})`);

  const lineGen = d3.line()
    .defined(d => d.v != null)
    .x(d => x(d.day))
    .y(d => y(d.v));

  plot.append("path")
    .datum(p.raw)
    .attr("d", lineGen)
    .attr("fill", "none").attr("stroke", RAW_COLOR).attr("stroke-width", 1.2)
    .attr("stroke-linejoin", "miter").attr("stroke-miterlimit", 2);

  plot.append("path")
    .datum(p.corr)
    .attr("d", lineGen)
    .attr("fill", "none").attr("stroke", "#000").attr("stroke-width", 1.1)
    .attr("stroke-linejoin", "miter").attr("stroke-miterlimit", 2);

  // Markers (not clipped so edge markers stay whole)
  const marks = g.append("g");
  if (p.lab) {
    p.lab.days.forEach((d, i) => drawCircle(marks, x(d), y(p.lab.vals[i]), CR));
  }
  if (p.ramboll) {
    p.ramboll.days.forEach((d, i) => drawSquare(marks, x(d), y(p.ramboll.vals[i]), SQ));
  }

  // Legend
  const lg = g.append("g");
  p.legend.forEach(item => {
    const cy = p.legendY;
    if (item.kind === "raw" || item.kind === "corr") {
      lg.append("line")
        .attr("x1", item.x).attr("x2", item.x + 27)
        .attr("y1", cy + 0.5).attr("y2", cy + 0.5)
        .attr("stroke", item.kind === "raw" ? RAW_COLOR : "#000")
        .attr("stroke-width", 1.3);
      lg.append("text")
        .attr("x", item.x + 29).attr("y", cy).attr("dy", "0.36em")
        .style("font-size", "18.5px").text(item.label);
    } else if (item.kind === "lab") {
      lg.append("circle").attr("cx", item.x).attr("cy", cy).attr("r", 5.5)
        .attr("fill", "#fff").attr("stroke", MARK_STROKE).attr("stroke-width", 1);
      lg.append("text")
        .attr("x", item.x + 16).attr("y", cy).attr("dy", "0.36em")
        .style("font-size", "18.5px").text(item.label);
    } else {
      lg.append("rect")
        .attr("x", item.x - 5.5).attr("y", cy - 5.5).attr("width", 11).attr("height", 11)
        .attr("fill", "#fff").attr("stroke", MARK_STROKE).attr("stroke-width", 1);
      lg.append("text")
        .attr("x", item.x + 17).attr("y", cy).attr("dy", "0.36em")
        .style("font-size", "18.5px").text(item.label);
    }
  });
});
</script>
</body>
</html>
